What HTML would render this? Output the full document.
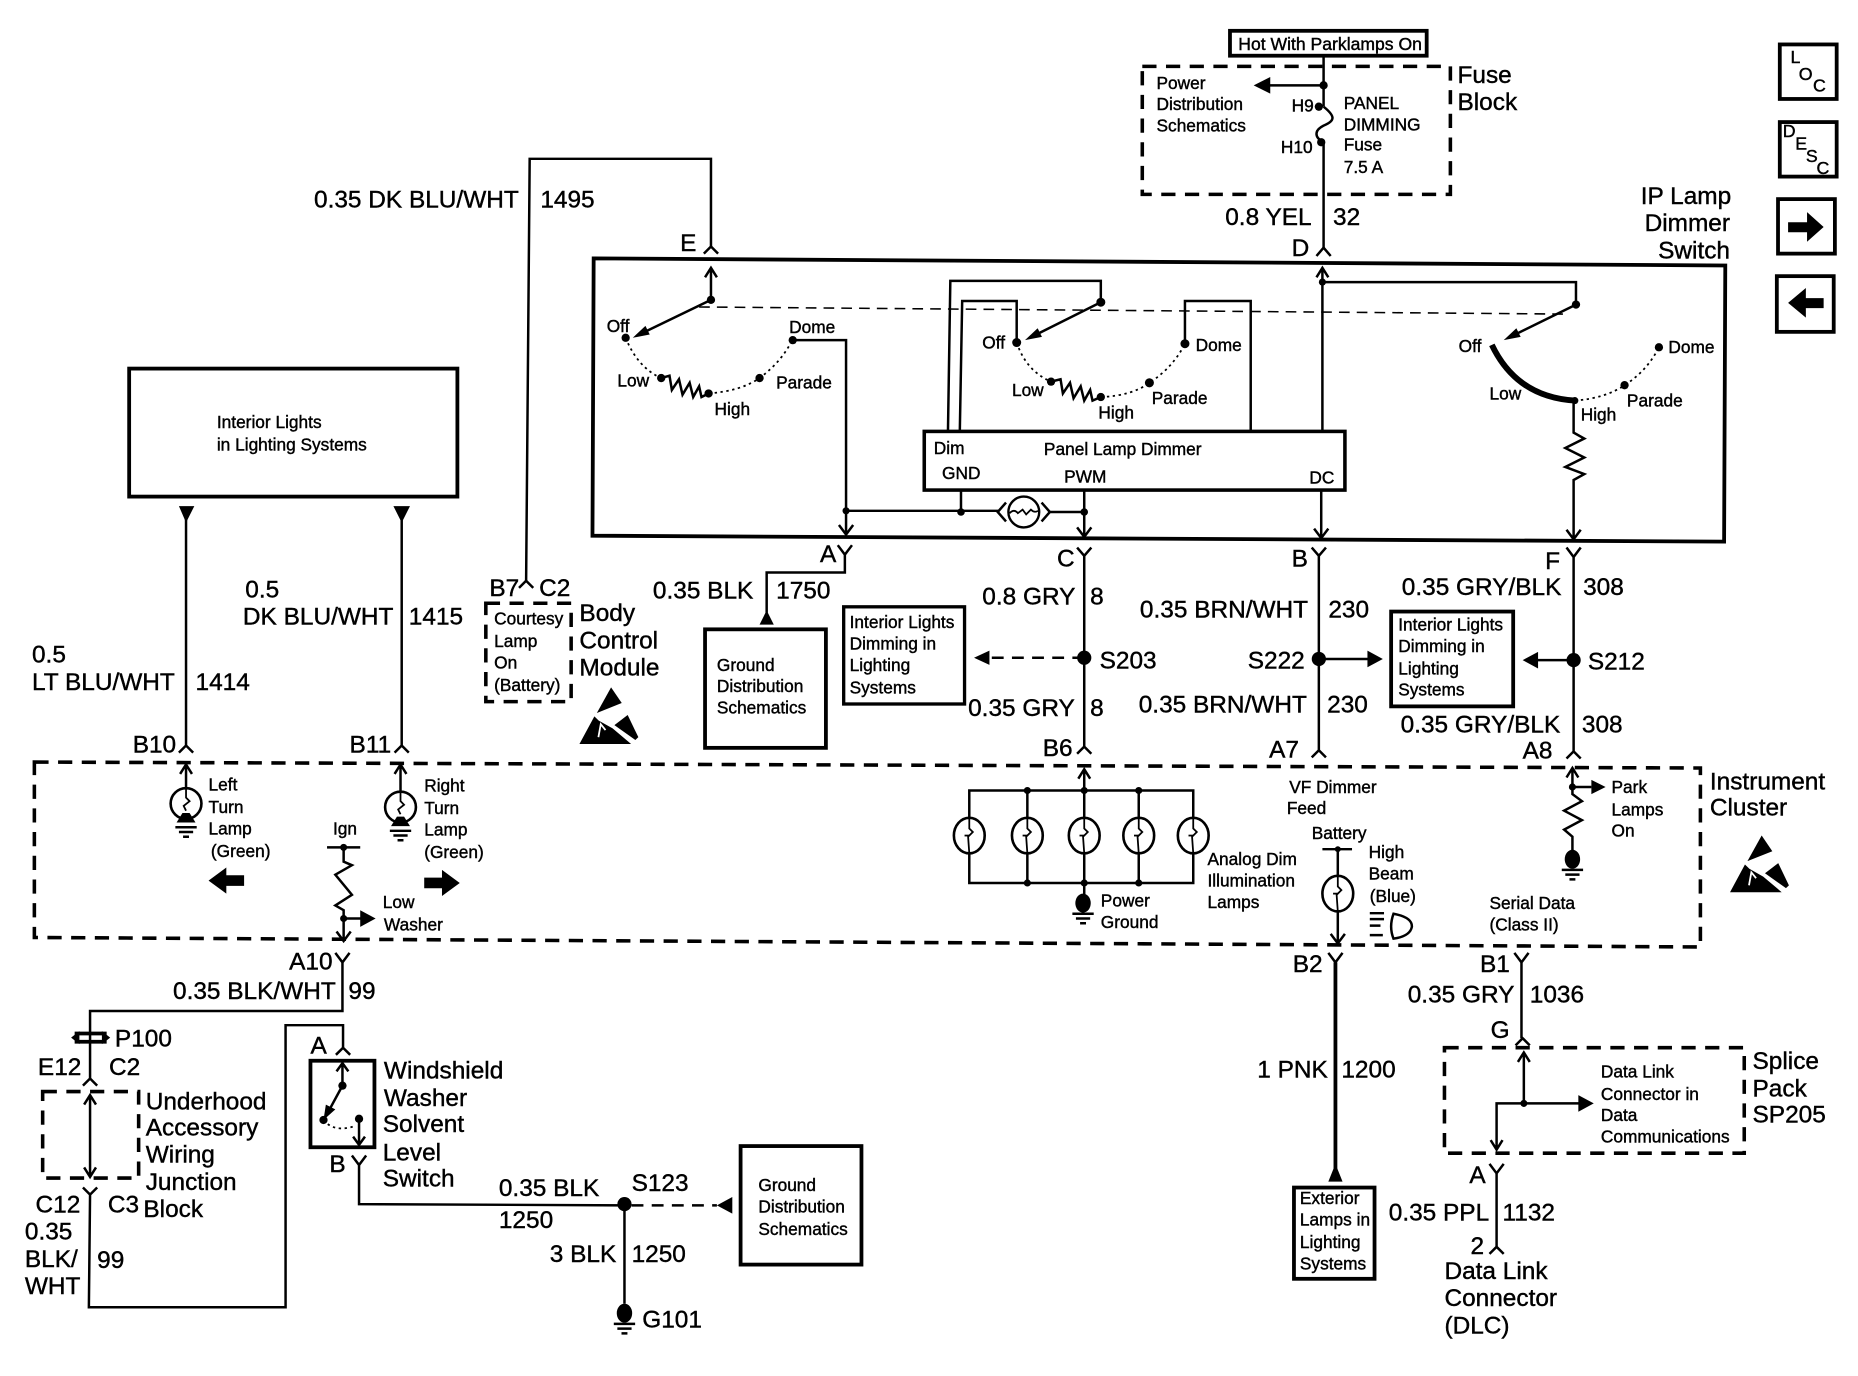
<!DOCTYPE html>
<html><head><meta charset="utf-8"><style>
html,body{margin:0;padding:0;background:#fff;width:1858px;height:1376px;overflow:hidden}
svg{display:block}
text{font-family:"Liberation Sans",sans-serif;fill:#000;stroke:#000;stroke-width:.35}
.l{font-size:20.6px}.s{font-size:14.6px}
.w{fill:none;stroke:#000;stroke-width:2.1}
.t{fill:none;stroke:#000;stroke-width:3.2}
.n{fill:none;stroke:#000;stroke-width:1.5}
.d{fill:none;stroke:#000;stroke-width:3;stroke-dasharray:12 8}
.f{fill:#000;stroke:none}
.h{fill:none;stroke:#000;stroke-width:1.5;stroke-dasharray:2 3}
</style></head><body>
<svg width="1858" height="1376" viewBox="0 0 1568 1161" preserveAspectRatio="none" xmlns="http://www.w3.org/2000/svg">
<defs>
<g id="gnd"><ellipse class="f" cx="0" cy="0" rx="6.5" ry="8"/><path class="w" d="M-9 9H9M-6 13H6M-2.5 17H2.5"/></g>
<g id="lamp"><ellipse cx="0" cy="0" rx="13" ry="15" fill="#fff" stroke="#000" stroke-width="2.2"/><path class="n" d="M0 -15V-6L3 -3L-1 1L0 15"/><path class="n" d="M-4 0H0"/></g>
<g id="tlamp"><circle cx="0" cy="0" r="13" fill="#fff" stroke="#000" stroke-width="2.2"/><path class="n" d="M0 -13V-5L3 -2L-2 2L0 6"/><path class="f" d="M-8 16L-3 8H3L8 16Z"/><path class="w" d="M-9 20H9M-6 24H6M-2.5 28H2.5"/></g>
<g id="esd"><path class="f" d="M26.7 0L35.7 13.2L14.7 21.6Z"/><path class="f" d="M0 47.8L12.6 24.4L16.3 28L28 34.6L43.6 47.8Z"/><path class="f" d="M29.5 31.8L40.7 23.3L49.7 42L47.2 44.4Z"/><path d="M16 42L18 31L22 36" stroke="#fff" stroke-width="1.5" fill="none"/></g>
</defs>

<!-- Top: fuse block -->
<rect x="1038" y="26" width="166" height="21" class="t"/>
<text class="s" x="1045" y="42" textLength="155" lengthAdjust="spacingAndGlyphs">Hot With Parklamps On</text>
<rect x="964" y="56" width="260" height="108" class="d"/>
<path class="w" d="M1117 47V90M1117 90c10 8 10 12 0 16c-8 4 -8 10 0 14M1117 120V209"/>
<path class="w" d="M1117 72H1070"/><path class="f" d="M1058 72L1072 65V79Z"/>
<circle class="f" cx="1117" cy="72" r="3.5"/><circle class="f" cx="1113" cy="90" r="3.5"/><circle class="f" cx="1115" cy="120" r="3.5"/>
<text class="s" x="976" y="75">Power</text><text class="s" x="976" y="93">Distribution</text><text class="s" x="976" y="111">Schematics</text>
<text class="s" x="1090" y="94">H9</text><text class="s" x="1081" y="129">H10</text>
<text class="s" x="1134" y="92">PANEL</text><text class="s" x="1134" y="110">DIMMING</text><text class="s" x="1134" y="127">Fuse</text><text class="s" x="1134" y="146">7.5 A</text>
<text class="l" x="1230" y="70">Fuse</text><text class="l" x="1230" y="93">Block</text>
<text class="l" x="1034" y="190">0.8 YEL</text><text class="l" x="1125" y="190">32</text>
<text class="l" x="1090" y="216">D</text>
<path class="w" d="M1111 216L1117 209L1123 216"/>

<!-- wire E to B7 -->
<path class="w" d="M444 490L447 134H600V208"/>
<path class="w" d="M594 214L600 208L606 214"/>
<text class="l" x="574" y="212">E</text>
<text class="l" x="265" y="175">0.35 DK BLU/WHT</text><text class="l" x="456" y="175">1495</text>

<!-- IP lamp dimmer switch -->
<path class="t" d="M501 218L1456 224L1455 457L500 452Z"/>
<text class="l" x="1461" y="172" text-anchor="end">IP Lamp</text><text class="l" x="1460" y="195" text-anchor="end">Dimmer</text><text class="l" x="1460" y="218" text-anchor="end">Switch</text>
<path d="M590 259L1320 265" fill="none" stroke="#000" stroke-width="1.3" stroke-dasharray="9 6"/>

<!-- left switch -->
<path class="w" d="M600 253V226M595 234L600 226L605 234"/>
<circle class="f" cx="600" cy="253" r="3.5"/><path class="w" d="M600 253L540 282"/><path class="f" d="M534 285L544.7 275L548.3 282.2Z"/>
<circle class="f" cx="528" cy="285" r="3.5"/>
<path class="h" d="M528 285Q538 310 558 319"/>
<circle class="f" cx="558" cy="319" r="3.5"/>
<path class="w" d="M558 319L565 317L567 329L573 320L576 333L582 323L585 335L590 326L592 335L598 332"/>
<circle class="f" cx="598" cy="332" r="3.5"/>
<path class="h" d="M598 332Q625 330 641 319Q660 305 669 286"/>
<circle class="f" cx="641" cy="319" r="3.5"/><circle class="f" cx="669" cy="287" r="3.5"/>
<path class="w" d="M669 287H714V450M708 443L714 451L720 443"/>
<circle class="f" cx="714" cy="431" r="3"/>
<text class="s" x="512" y="280">Off</text><text class="s" x="666" y="281">Dome</text><text class="s" x="521" y="326">Low</text><text class="s" x="603" y="350">High</text><text class="s" x="655" y="328">Parade</text>

<!-- middle switch -->
<path class="w" d="M800 364L802 237H929V255"/>
<path class="w" d="M810 364L812 254H858V289"/>
<path class="w" d="M1000 290V254H1055.5V364"/>
<circle class="f" cx="929" cy="255" r="3.8"/><path class="w" d="M929 255L871 284"/><path class="f" d="M865 287L875.7 277L879.3 284.2Z"/>
<circle class="f" cx="858" cy="289" r="3.8"/>
<path class="h" d="M858 289Q866 313 887 322"/>
<circle class="f" cx="887" cy="322" r="3.5"/>
<path class="w" d="M887 322L895 320L897 332L903 323L906 336L912 326L915 338L920 329L922 338L929 335"/>
<circle class="f" cx="929" cy="335" r="3.5"/>
<path class="h" d="M929 335Q955 334 970 323Q990 310 1000 290"/>
<circle class="f" cx="970" cy="323" r="3.8"/><circle class="f" cx="1000" cy="290" r="3.8"/>
<text class="s" x="829" y="294">Off</text><text class="s" x="1009" y="296">Dome</text><text class="s" x="854" y="334">Low</text><text class="s" x="927" y="353">High</text><text class="s" x="972" y="341">Parade</text>

<!-- panel lamp dimmer -->
<rect x="780" y="364" width="355" height="49.5" fill="#fff" stroke="#000" stroke-width="3"/>
<text class="s" x="788" y="383">Dim</text><text class="s" x="881" y="384">Panel Lamp Dimmer</text><text class="s" x="795" y="404">GND</text><text class="s" x="898" y="407">PWM</text><text class="s" x="1105" y="408">DC</text>
<path class="w" d="M811 413V432M915 413V452M909 445L915 453L921 445M714 431H843M885 432H915"/>
<circle class="f" cx="811" cy="432" r="3.2"/><circle class="f" cx="915" cy="432" r="3.2"/>
<circle cx="864" cy="432" r="13" fill="#fff" stroke="#000" stroke-width="2"/>
<path class="n" d="M852 433Q856 429 859 433L863 430L866 434L870 430Q873 433 876 431"/>
<path class="w" d="M849 424L842 432L849 440M879 424L886 432L879 440"/>
<path class="w" d="M1115 413V453M1109 446L1115 454L1121 446M1116 364V226M1111 234L1116 226L1121 234"/>
<circle class="f" cx="1116" cy="238" r="3"/>

<!-- right switch -->
<path class="w" d="M1116 238H1330V257"/>
<circle class="f" cx="1330" cy="257" r="3.5"/><path class="w" d="M1330 257L1275 284"/><path class="f" d="M1269 287L1279.7 277L1283.3 284.2Z"/>
<path d="M1259 291Q1280 335 1329 338" fill="none" stroke="#000" stroke-width="5"/>
<path class="h" d="M1329 338Q1355 336 1371 325Q1390 313 1400 293"/>
<circle class="f" cx="1371" cy="325" r="3.5"/><circle class="f" cx="1400" cy="293" r="3.5"/><circle class="f" cx="1329" cy="338" r="3"/>
<path class="w" d="M1328 338V365L1337 370L1321 378L1337 386L1321 394L1337 400L1328 405V454M1322 447L1328 455L1334 447"/>
<text class="s" x="1231" y="297">Off</text><text class="s" x="1408" y="298">Dome</text><text class="s" x="1257" y="337">Low</text><text class="s" x="1334" y="355">High</text><text class="s" x="1373" y="343">Parade</text>

<!-- lower connectors -->
<path class="w" d="M707 460L713 468L719 460M713 468V483H647V517"/>
<path class="f" d="M647 515L653 527H641Z"/>
<text class="l" x="692" y="474">A</text>
<text class="l" x="551" y="505">0.35 BLK</text><text class="l" x="655" y="505">1750</text>
<rect x="595" y="531" width="102" height="100" class="t"/>
<text class="s" x="605" y="566">Ground</text><text class="s" x="605" y="584">Distribution</text><text class="s" x="605" y="602">Schematics</text>
<rect x="712" y="512" width="102" height="82" fill="none" stroke="#000" stroke-width="2.8"/>
<text class="s" x="717" y="530">Interior Lights</text><text class="s" x="717" y="548">Dimming in</text><text class="s" x="717" y="566">Lighting</text><text class="s" x="717" y="585">Systems</text>

<path class="w" d="M909 462L915 469L921 462M915 469V630M909 636L915 630L921 636"/>
<text class="l" x="892" y="478">C</text>
<text class="l" x="829" y="510">0.8 GRY</text><text class="l" x="920" y="510">8</text>
<circle class="f" cx="915" cy="555" r="6"/><text class="l" x="928" y="564">S203</text>
<path class="w" style="stroke-dasharray:10 7" d="M915 555H835"/><path class="f" d="M822 555L835 549V561Z"/>
<text class="l" x="817" y="604">0.35 GRY</text><text class="l" x="920" y="604">8</text><text class="l" x="880" y="638">B6</text>

<path class="w" d="M1107 462L1113 469L1119 462M1113 469V633M1107 639L1113 633L1119 639"/>
<text class="l" x="1090" y="478">B</text>
<text class="l" x="962" y="521">0.35 BRN/WHT</text><text class="l" x="1121" y="521">230</text>
<text class="l" x="1053" y="564">S222</text><circle class="f" cx="1113" cy="556" r="6"/>
<path class="w" d="M1113 556H1155"/><path class="f" d="M1167 556L1154 549V563Z"/>
<text class="l" x="961" y="601">0.35 BRN/WHT</text><text class="l" x="1120" y="601">230</text><text class="l" x="1071" y="639">A7</text>
<rect x="1174" y="516" width="103" height="80" class="t"/>
<text class="s" x="1180" y="532">Interior Lights</text><text class="s" x="1180" y="550">Dimming in</text><text class="s" x="1180" y="569">Lighting</text><text class="s" x="1180" y="587">Systems</text>

<path class="w" d="M1322 462L1328 470L1334 462M1328 470V634M1322 640L1328 634L1334 640"/>
<text class="l" x="1304" y="480">F</text>
<text class="l" x="1183" y="502">0.35 GRY/BLK</text><text class="l" x="1336" y="502">308</text>
<circle class="f" cx="1328" cy="557" r="6"/><text class="l" x="1340" y="565">S212</text>
<path class="w" d="M1328 557H1297"/><path class="f" d="M1285 557L1298 550V564Z"/>
<text class="l" x="1182" y="618">0.35 GRY/BLK</text><text class="l" x="1335" y="618">308</text><text class="l" x="1285" y="640">A8</text>

<!-- left block -->
<rect x="109" y="311" width="277" height="108" class="t"/>
<text class="s" x="183" y="361">Interior Lights</text><text class="s" x="183" y="380">in Lighting Systems</text>
<path class="f" d="M151 427H164L157 441ZM332 427H346L339 441Z"/>
<path class="w" d="M157 438V629M151 635L157 629L163 635M339 438V629M333 635L339 629L345 635"/>
<text class="l" x="27" y="559">0.5</text><text class="l" x="27" y="582">LT BLU/WHT</text><text class="l" x="165" y="582">1414</text>
<text class="l" x="207" y="504">0.5</text><text class="l" x="205" y="527">DK BLU/WHT</text><text class="l" x="345" y="527">1415</text>
<text class="l" x="112" y="635">B10</text><text class="l" x="295" y="635">B11</text>

<!-- BCM -->
<path class="w" d="M438 496L444 490L450 496"/>
<text class="l" x="413" y="503">B7</text><text class="l" x="455" y="503">C2</text>
<rect x="410" y="509" width="72" height="83" class="d"/>
<text class="s" x="417" y="527">Courtesy</text><text class="s" x="417" y="546">Lamp</text><text class="s" x="417" y="564">On</text><text class="s" x="417" y="583">(Battery)</text>
<text class="l" x="489" y="524">Body</text><text class="l" x="489" y="547">Control</text><text class="l" x="489" y="570">Module</text>
<use href="#esd" transform="translate(489,580)"/>

<!-- instrument cluster -->
<path class="d" d="M29 643L1435 648V799L29 791Z"/>
<text class="l" x="1443" y="666">Instrument</text><text class="l" x="1443" y="688">Cluster</text>
<use href="#esd" transform="translate(1460,705)"/>
<path class="w" d="M157 645V666M152 653L157 645L162 653"/>
<use href="#tlamp" transform="translate(157,678)"/>
<text class="s" x="176" y="667">Left</text><text class="s" x="176" y="686">Turn</text><text class="s" x="176" y="704">Lamp</text><text class="s" x="178" y="723">(Green)</text>
<path class="f" d="M176 743L191 732V738.5H206V747.5H191V754Z"/>
<path class="w" d="M338 645V668M333 653L338 645L343 653"/>
<use href="#tlamp" transform="translate(338,681)"/>
<text class="s" x="358" y="668">Right</text><text class="s" x="358" y="687">Turn</text><text class="s" x="358" y="705">Lamp</text><text class="s" x="358" y="724">(Green)</text>
<path class="f" d="M388 745L373 734V740.5H358V749.5H373V756Z"/>
<text class="s" x="281" y="704">Ign</text>
<path class="w" d="M276 715H304M290 715V727L297 730L283 738L297 755L283 764L290 768V793M284 786L290 794L296 786M290 775H305"/>
<circle class="f" cx="290" cy="715" r="3"/><circle class="f" cx="290" cy="775" r="3"/><path class="f" d="M317 775L304 768V782Z"/>
<text class="s" x="323" y="766">Low</text><text class="s" x="324" y="785">Washer</text>

<path class="w" d="M283 804L289 812L295 804M289 812V853H76V910M70 916L76 910L82 916"/>
<text class="l" x="244" y="818">A10</text><text class="l" x="146" y="843">0.35 BLK/WHT</text><text class="l" x="294" y="843">99</text>
<path class="t" d="M63 872H90M63 879H90"/><path class="f" d="M60 875.5L67 870V881ZM93 875.5L86 870V881Z"/>
<text class="l" x="97" y="883">P100</text>
<text class="l" x="32" y="907">E12</text><text class="l" x="92" y="907">C2</text>
<rect x="36" y="921" width="81" height="73" class="d"/>
<path class="w" d="M76 924V993M71 932L76 924L81 932M71 985L76 993L81 985"/>
<path class="w" d="M70 1002L76 1008L82 1002M76 1008L75 1103H241V865H289.5V884M283.5 890L289.5 884L295.5 890"/>
<text class="l" x="123" y="936">Underhood</text><text class="l" x="123" y="958">Accessory</text><text class="l" x="123" y="981">Wiring</text><text class="l" x="123" y="1004">Junction</text><text class="l" x="121" y="1027">Block</text>
<text class="l" x="30" y="1023">C12</text><text class="l" x="91" y="1023">C3</text>
<text class="l" x="21" y="1046">0.35</text><text class="l" x="21" y="1069">BLK/</text><text class="l" x="21" y="1092">WHT</text><text class="l" x="82" y="1070">99</text>

<text class="l" x="262" y="889">A</text>
<rect x="262" y="895" width="54" height="73" class="t"/>
<path class="w" d="M289 897V916L276 940M284 904L289 897L294 904M303 944V966M298 959L303 966L308 959"/>
<path class="f" d="M273 945L275 932L283 936Z"/>
<circle class="f" cx="289" cy="916" r="3.5"/><circle class="f" cx="273" cy="945" r="3.5"/><circle class="f" cx="303" cy="944" r="3.5"/>
<path class="h" d="M273 945Q282 956 300 950"/>
<text class="l" x="324" y="910">Windshield</text><text class="l" x="324" y="933">Washer</text><text class="l" x="323" y="955">Solvent</text><text class="l" x="323" y="979">Level</text><text class="l" x="323" y="1001">Switch</text>
<text class="l" x="278" y="989">B</text>
<path class="w" d="M297 975L303 983L309 975M303 983V1016L527 1017V1100"/>
<circle class="f" cx="527" cy="1016" r="6"/>
<text class="l" x="533" y="1005">S123</text><text class="l" x="421" y="1009">0.35 BLK</text><text class="l" x="421" y="1036">1250</text>
<path class="w" style="stroke-dasharray:10 7" d="M533 1017H605"/><path class="f" d="M605 1017L618 1010V1024Z"/>
<rect x="625" y="967" width="102" height="100" class="t"/>
<text class="s" x="640" y="1005">Ground</text><text class="s" x="640" y="1023">Distribution</text><text class="s" x="640" y="1042">Schematics</text>
<text class="l" x="464" y="1065">3 BLK</text><text class="l" x="533" y="1065">1250</text>
<use href="#gnd" transform="translate(527,1108)"/>
<text class="l" x="542" y="1120">G101</text>

<!-- analog lamps -->
<path class="w" d="M915 668V649M910 657L915 649L920 657M818 667H1007V745H818ZM867 667V745M915 667V745M961 667V745M915 745V760"/>
<circle class="f" cx="867" cy="667" r="3"/><circle class="f" cx="915" cy="667" r="3"/><circle class="f" cx="961" cy="667" r="3"/>
<circle class="f" cx="867" cy="745" r="3"/><circle class="f" cx="915" cy="745" r="3"/><circle class="f" cx="961" cy="745" r="3"/>
<use href="#lamp" transform="translate(818,705)"/><use href="#lamp" transform="translate(867,705)"/><use href="#lamp" transform="translate(915,705)"/><use href="#lamp" transform="translate(961,705)"/><use href="#lamp" transform="translate(1007,705)"/>
<use href="#gnd" transform="translate(914,762)"/>
<text class="s" x="929" y="765">Power</text><text class="s" x="929" y="783">Ground</text>
<text class="s" x="1019" y="730">Analog Dim</text><text class="s" x="1019" y="748">Illumination</text><text class="s" x="1019" y="766">Lamps</text>
<text class="s" x="1088" y="669">VF Dimmer</text><text class="s" x="1086" y="687">Feed</text><text class="s" x="1107" y="708">Battery</text>
<path class="w" d="M1116 716.5H1141M1129 716.5V795M1123 788L1129 796L1135 788"/><circle class="f" cx="1129" cy="716.5" r="2.5"/>
<use href="#lamp" transform="translate(1129,754)"/>
<text class="s" x="1155" y="724">High</text><text class="s" x="1155" y="742">Beam</text><text class="s" x="1156" y="761">(Blue)</text>
<path class="w" d="M1176 771Q1192 774 1191.5 782Q1190 790 1176 792Q1172 782 1176 771ZM1156 770.5H1168M1156 775.5H1168M1156 781H1165M1156 789H1167"/>
<text class="s" x="1257" y="767">Serial Data</text><text class="s" x="1257" y="785">(Class II)</text>
<path class="w" d="M1327 648V670L1335 676L1320 684L1335 692L1320 700L1327 706V718M1322 656L1327 648L1332 656M1327 664H1343"/>
<circle class="f" cx="1327" cy="664" r="3"/><path class="f" d="M1355 664L1343 658V670Z"/>
<use href="#gnd" transform="translate(1327,725)"/>
<text class="s" x="1360" y="669">Park</text><text class="s" x="1360" y="688">Lamps</text><text class="s" x="1360" y="706">On</text>

<!-- B2 -->
<path class="w" d="M1121 804L1127 812L1133 804"/>
<path class="t" d="M1127 812V986"/><path class="f" d="M1127 982L1133 997H1121Z"/>
<text class="l" x="1091" y="820">B2</text><text class="l" x="1061" y="909">1 PNK</text><text class="l" x="1132" y="909">1200</text>
<rect x="1092" y="1002" width="68" height="77" class="t"/>
<text class="s" x="1097" y="1016">Exterior</text><text class="s" x="1097" y="1034">Lamps in</text><text class="s" x="1097" y="1053">Lighting</text><text class="s" x="1097" y="1071">Systems</text>

<!-- B1 -->
<path class="w" d="M1278 804L1284 812L1290 804M1284 812V876M1279 882L1285 876L1291 882"/>
<text class="l" x="1249" y="820">B1</text><text class="l" x="1188" y="846">0.35 GRY</text><text class="l" x="1291" y="846">1036</text><text class="l" x="1258" y="876">G</text>
<rect x="1219" y="884" width="253" height="89" class="d"/>
<path class="w" d="M1286 888V931M1281 896L1286 888L1291 896M1263 970V931H1333M1258 962L1263 970L1268 962"/>
<circle class="f" cx="1286" cy="931" r="3"/><path class="f" d="M1345 931L1332 924V938Z"/>
<text class="s" x="1351" y="909">Data Link</text><text class="s" x="1351" y="928">Connector in</text><text class="s" x="1351" y="946">Data</text><text class="s" x="1351" y="964">Communications</text>
<text class="l" x="1479" y="902">Splice</text><text class="l" x="1479" y="925">Pack</text><text class="l" x="1479" y="947">SP205</text>
<path class="w" d="M1257 982L1263 990L1269 982M1263 990V1052M1257 1058L1263 1052L1269 1058"/>
<text class="l" x="1240" y="998">A</text><text class="l" x="1172" y="1030">0.35 PPL</text><text class="l" x="1268" y="1030">1132</text><text class="l" x="1241" y="1058">2</text>
<text class="l" x="1219" y="1079">Data Link</text><text class="l" x="1219" y="1102">Connector</text><text class="l" x="1219" y="1125">(DLC)</text>

<!-- right icons -->
<rect x="1502" y="37.5" width="48" height="46" class="t"/>
<text style="font-size:15px" x="1511" y="53">L</text><text style="font-size:15px" x="1518" y="67.5">O</text><text style="font-size:15px" x="1530" y="77">C</text>
<rect x="1502" y="103" width="48" height="46" class="t"/>
<text style="font-size:15px" x="1504.5" y="115.5">D</text><text style="font-size:15px" x="1515" y="126">E</text><text style="font-size:15px" x="1524" y="136.5">S</text><text style="font-size:15px" x="1533" y="147">C</text>
<rect x="1500.5" y="168" width="48" height="46" class="t"/>
<path class="f" d="M1509 187.5H1525V179L1539 191.5L1525 204V196H1509Z"/>
<rect x="1499.5" y="233" width="48" height="47" class="t"/>
<path class="f" d="M1539 251.5H1524V243L1509 255.5L1524 268V260H1539Z"/>
</svg>
</body></html>
